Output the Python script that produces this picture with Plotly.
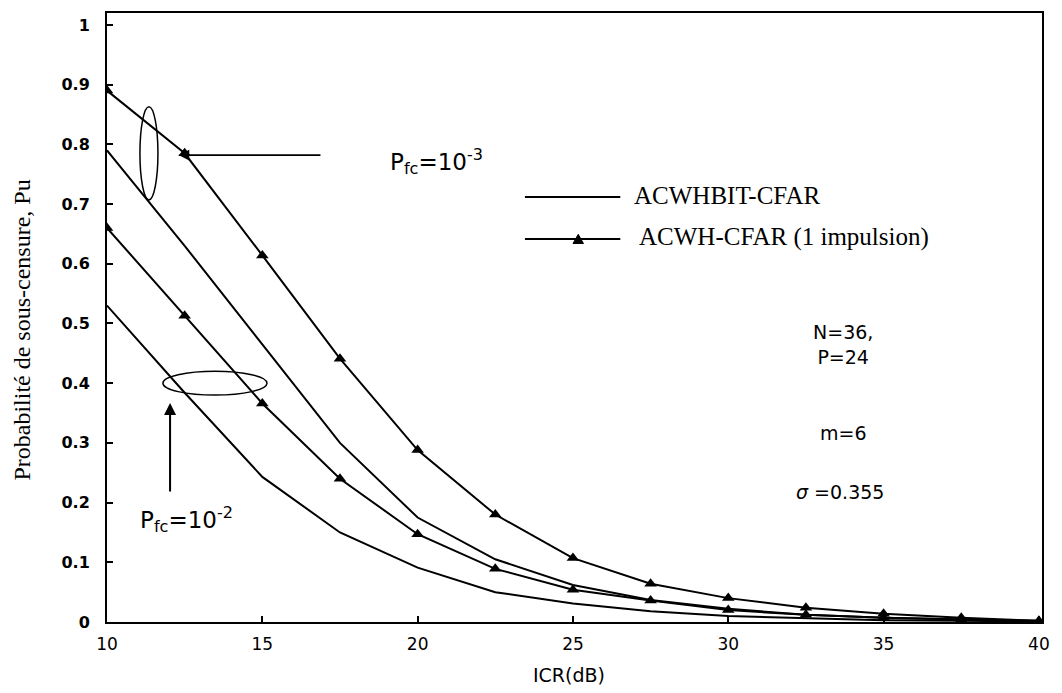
import plotly.graph_objects as go

# ---- data ----
icr_db = [10, 12.5, 15, 17.5, 20, 22.5, 25, 27.5, 30, 32.5, 35, 37.5, 40]

acwh_pfc3 = [0.89, 0.785, 0.614, 0.441, 0.288, 0.18, 0.107, 0.064, 0.040, 0.024, 0.014, 0.007, 0.002]
acwhbit_pfc3 = [0.79, 0.63, 0.465, 0.30, 0.175, 0.105, 0.062, 0.037, 0.022, 0.012, 0.007, 0.004, 0.002]
acwh_pfc2 = [0.66, 0.513, 0.366, 0.24, 0.147, 0.089, 0.054, 0.036, 0.020, 0.012, 0.007, 0.004, 0.001]
acwhbit_pfc2 = [0.53, 0.384, 0.243, 0.15, 0.091, 0.05, 0.031, 0.018, 0.010, 0.006, 0.003, 0.002, 0.001]

y_ticks = [0, 0.1, 0.2, 0.3, 0.4, 0.5, 0.6, 0.7, 0.8, 0.9, 1.0]
y_tick_text = ["0", "0.1", "0.2", "0.3", "0.4", "0.5", "0.6", "0.7", "0.8", "0.9", "1"]
x_ticks = [10, 15, 20, 25, 30, 35, 40]

legend_names = ["ACWHBIT-CFAR", "ACWH-CFAR (1 impulsion)"]
x_title = "ICR(dB)"
y_title = "Probabilité de sous-censure, Pu"

BLACK = "#000000"
fig = go.Figure()

tri = dict(symbol="triangle-up", size=11, color=BLACK)
fig.add_trace(go.Scatter(x=icr_db, y=acwh_pfc3, mode="lines+markers", name=legend_names[1],
                         line=dict(color=BLACK, width=2), marker=tri, showlegend=False))
fig.add_trace(go.Scatter(x=icr_db, y=acwhbit_pfc3, mode="lines", name=legend_names[0],
                         line=dict(color=BLACK, width=2), showlegend=False))
fig.add_trace(go.Scatter(x=icr_db, y=acwh_pfc2, mode="lines+markers", name=legend_names[1],
                         line=dict(color=BLACK, width=2), marker=tri, showlegend=False))
fig.add_trace(go.Scatter(x=icr_db, y=acwhbit_pfc2, mode="lines", name=legend_names[0],
                         line=dict(color=BLACK, width=2), showlegend=False))

sans = "DejaVu Sans"
serif = "Liberation Serif"

fig.update_layout(
    width=1054, height=685,
    margin=dict(l=99, r=20, t=5, b=71),
    paper_bgcolor="white", plot_bgcolor="white",
    xaxis=dict(range=[10, 40.1], tickvals=x_ticks, showgrid=False, zeroline=False, automargin=False,
               showline=True, linecolor=BLACK, linewidth=2, mirror=True,
               ticks="inside", ticklen=6, tickwidth=2, tickcolor=BLACK, ticklabelstandoff=6,
               tickfont=dict(family=sans, size=17, color=BLACK)),
    yaxis=dict(range=[0, 1.02], tickvals=y_ticks, ticktext=y_tick_text, showgrid=False, zeroline=False,
               automargin=False, showline=True, linecolor=BLACK, linewidth=2, mirror=True,
               ticks="inside", ticklen=6, tickwidth=2, tickcolor=BLACK, ticklabelstandoff=12,
               tickfont=dict(family=sans, size=16, color=BLACK, weight="bold")),
)

# axis titles
fig.add_annotation(x=0.494, y=-0.087, xref="paper", yref="paper", yanchor="middle", text=x_title,
                   showarrow=False, font=dict(family=sans, size=19, color=BLACK))
fig.add_annotation(x=-0.091, y=0.48, xref="paper", yref="paper", xanchor="center", yanchor="middle",
                   text=y_title, textangle=-90, showarrow=False,
                   font=dict(family=serif, size=24, color=BLACK))

# ellipses marking curve groups
fig.add_shape(type="circle", xref="x", yref="y", x0=11.06, x1=11.64, y0=0.707, y1=0.863,
              line=dict(color=BLACK, width=1.5))
fig.add_shape(type="circle", xref="x", yref="y", x0=11.80, x1=15.15, y0=0.380, y1=0.420,
              line=dict(color=BLACK, width=1.5))

ann_font = dict(family=sans, size=19, color=BLACK)
pfc_font = dict(family=sans, size=23, color=BLACK)
# arrows
fig.add_annotation(x=12.3, y=0.782, ax=16.92, ay=0.782, xref="x", yref="y", axref="x", ayref="y",
                   text="", showarrow=True, arrowhead=2, arrowsize=1.2, arrowwidth=1.8, arrowcolor=BLACK)
fig.add_annotation(x=12.03, y=0.367, ax=12.03, ay=0.216, xref="x", yref="y", axref="x", ayref="y",
                   text="", showarrow=True, arrowhead=2, arrowsize=1.2, arrowwidth=2, arrowcolor=BLACK)
fig.add_annotation(x=20.6, y=0.772, xref="x", yref="y", text="P<sub>fc</sub>=10<sup>-3</sup>",
                   showarrow=False, font=pfc_font)
fig.add_annotation(x=12.55, y=0.172, xref="x", yref="y", text="P<sub>fc</sub>=10<sup>-2</sup>",
                   showarrow=False, font=pfc_font)
fig.add_annotation(x=33.7, y=0.465, xref="x", yref="y", text="N=36,<br>P=24",
                   showarrow=False, font=ann_font)
fig.add_annotation(x=33.7, y=0.316, xref="x", yref="y", text="m=6", showarrow=False, font=ann_font)
fig.add_annotation(x=33.6, y=0.218, xref="x", yref="y", text="<i>σ</i> =0.355", showarrow=False, font=ann_font)

# custom legend
leg_font = dict(family=serif, size=25, color=BLACK)
fig.add_shape(type="line", xref="paper", yref="paper", x0=0.447, x1=0.549, y0=0.698, y1=0.698,
              line=dict(color=BLACK, width=2))
fig.add_annotation(x=0.5615, y=0.700, xref="paper", yref="paper", xanchor="left", yanchor="middle",
                   text=legend_names[0], showarrow=False, font=leg_font)
fig.add_shape(type="line", xref="paper", yref="paper", x0=0.447, x1=0.549, y0=0.629, y1=0.629,
              line=dict(color=BLACK, width=2))
tx, ty, hw, hh = 0.504, 0.629, 0.0056, 0.0075
fig.add_shape(type="path", xref="paper", yref="paper",
              path=f"M {tx-hw} {ty-hh} L {tx+hw} {ty-hh} L {tx} {ty+hh} Z",
              fillcolor=BLACK, line=dict(color=BLACK, width=1))
fig.add_annotation(x=0.567, y=0.632, xref="paper", yref="paper", xanchor="left", yanchor="middle",
                   text=legend_names[1], showarrow=False, font=leg_font)

fig.write_html("out.html")
